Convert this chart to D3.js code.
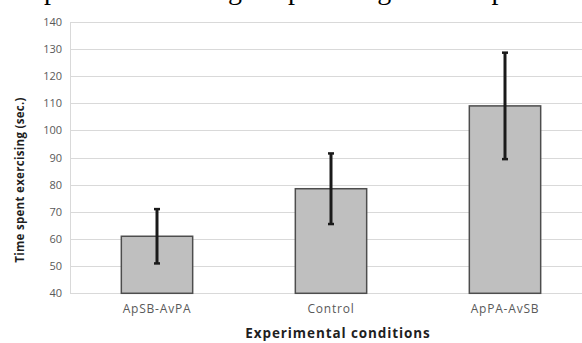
<!DOCTYPE html>
<html>
<head>
<meta charset="utf-8">
<script src="https://cdn.jsdelivr.net/npm/d3@7"></script>
<style>
  html, body { margin: 0; padding: 0; background: #fff; }
  svg { display: block; }
</style>
</head>
<body>
<svg id="chart" width="582" height="343"></svg>
<script>
// Mean time spent exercising per experimental condition, with error bars
const conditions = ["ApSB-AvPA", "Control", "ApPA-AvSB"];
const meanSeconds = [61, 78.5, 109];
const errorSeconds = [10, 13, 19.6];
const yTicks = [40, 50, 60, 70, 80, 90, 100, 110, 120, 130, 140];
const captionWords = ["spent", "exercising", "per", "leg", "in", "the", "exp"];
const captionX = [33, 127, 288, 357, 398, 421, 465];

const svg = d3.select("#chart");
const W = 582, H = 343;
const margin = { left: 70, top: 21.7, bottom: 49.7 };
const plotRight = 592;

const x = d3.scaleBand()
  .domain(conditions)
  .range([margin.left, plotRight])
  .paddingInner(0.59)
  .paddingOuter(0.295);

const y = d3.scaleLinear()
  .domain([40, 140])
  .range([H - margin.bottom, margin.top]);

// Caption line of the surrounding text, mostly cut off at the top edge
svg.append("text")
  .attr("y", -1.5)
  .attr("font-family", "'Liberation Serif', 'Times New Roman', serif")
  .attr("font-size", 28)
  .attr("fill", "#000")
  .selectAll("tspan")
  .data(captionWords)
  .join("tspan")
  .attr("x", (d, i) => captionX[i])
  .text(d => d);

// Horizontal gridlines
svg.append("g")
  .selectAll("line")
  .data(yTicks)
  .join("line")
  .attr("x1", margin.left)
  .attr("x2", plotRight)
  .attr("y1", d => Math.round(y(d)) + 0.5)
  .attr("y2", d => Math.round(y(d)) + 0.5)
  .attr("stroke", "#d9d9d9")
  .attr("stroke-width", 1);

// Y axis (labels only, light axis line)
const yAxis = svg.append("g")
  .attr("transform", `translate(${margin.left},0)`)
  .call(d3.axisLeft(y).tickValues(yTicks).tickSize(0).tickPadding(8));
yAxis.select(".domain").attr("stroke", "#d9d9d9");
yAxis.selectAll("text")
  .attr("font-family", "'Open Sans', sans-serif")
  .attr("font-size", 11)
  .attr("fill", "#595959");

// X axis labels
const xAxis = svg.append("g")
  .attr("transform", `translate(0,${H - margin.bottom})`)
  .call(d3.axisBottom(x).tickSize(0).tickPadding(11));
xAxis.select(".domain").remove();
xAxis.selectAll("text")
  .attr("font-family", "'Open Sans', sans-serif")
  .attr("font-size", 12)
  .attr("letter-spacing", 0.8)
  .attr("fill", "#595959");

// Bars
svg.append("g")
  .selectAll("rect")
  .data(conditions)
  .join("rect")
  .attr("x", d => x(d))
  .attr("y", (d, i) => y(meanSeconds[i]))
  .attr("width", x.bandwidth())
  .attr("height", (d, i) => y(40) - y(meanSeconds[i]))
  .attr("fill", "#bfbfbf")
  .attr("stroke", "#4d4d4d")
  .attr("stroke-width", 1.5);

// Error bars
const eb = svg.append("g")
  .attr("stroke", "#1a1a1a")
  .attr("stroke-width", 3);
conditions.forEach((c, i) => {
  const cx = x(c) + x.bandwidth() / 2;
  const lo = y(meanSeconds[i] - errorSeconds[i]);
  const hi = y(meanSeconds[i] + errorSeconds[i]);
  eb.append("line").attr("x1", cx).attr("x2", cx).attr("y1", lo).attr("y2", hi);
  eb.append("line").attr("x1", cx - 3).attr("x2", cx + 3).attr("y1", lo).attr("y2", lo).attr("stroke-width", 2.5);
  eb.append("line").attr("x1", cx - 3).attr("x2", cx + 3).attr("y1", hi).attr("y2", hi).attr("stroke-width", 2.5);
});

// Axis titles
svg.append("text")
  .attr("x", 338)
  .attr("y", 338)
  .attr("text-anchor", "middle")
  .attr("font-family", "'Open Sans', sans-serif")
  .attr("font-weight", "bold")
  .attr("font-size", 13.5)
  .attr("letter-spacing", 0.9)
  .attr("fill", "#1f1f1f")
  .text("Experimental conditions");

svg.append("text")
  .attr("transform", "translate(24,180) rotate(-90)")
  .attr("text-anchor", "middle")
  .attr("font-family", "'Open Sans', sans-serif")
  .attr("font-weight", "bold")
  .attr("font-size", 11.5)
  .attr("letter-spacing", 0.3)
  .attr("fill", "#1f1f1f")
  .text("Time spent exercising  (sec.)");
</script>
</body>
</html>
